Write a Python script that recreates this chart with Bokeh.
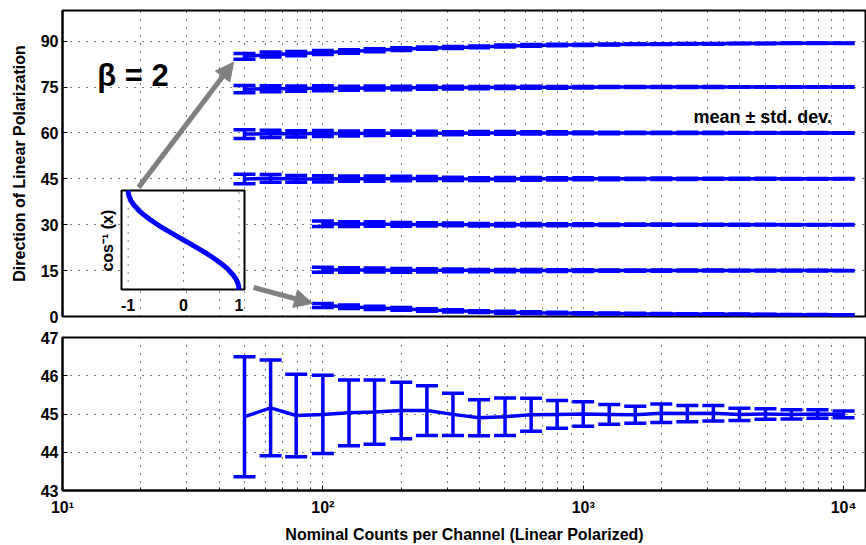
import math
from bokeh.plotting import figure
from bokeh.layouts import column
from bokeh.models import (Range1d, LinearScale, FixedTicker, Whisker, TeeHead,
                          ColumnDataSource, Label, Arrow, NormalHead)
from bokeh.embed import file_html
from bokeh.resources import INLINE
from bokeh.core.properties import value

# ---------------- data ----------------
counts = [50, 63, 79, 100, 126, 158, 200, 251, 316, 398, 501, 631, 794, 1000,
          1259, 1585, 1995, 2512, 3162, 3981, 5012, 6310, 7943, 10000]
counts_hi = [100, 126, 158, 200, 251, 316, 398, 501, 631, 794, 1000,
             1259, 1585, 1995, 2512, 3162, 3981, 5012, 6310, 7943, 10000]

mean_90 = [85.0, 85.6, 85.9, 86.3, 86.6, 87.0, 87.4, 87.7, 87.9, 88.1, 88.4, 88.6,
           88.7, 88.8, 88.9, 89.0, 89.0, 89.1, 89.1, 89.2, 89.2, 89.3, 89.3, 89.3]
std_90 = [0.93, 0.80, 0.70, 0.64, 0.55, 0.52, 0.46, 0.40, 0.35, 0.30, 0.30, 0.27,
          0.23, 0.20, 0.17, 0.14, 0.15, 0.13, 0.12, 0.10, 0.09, 0.08, 0.07, 0.06]
mean_75 = [74.3, 74.4, 74.5, 74.6, 74.6, 74.7, 74.7, 74.8, 74.8, 74.8, 74.9, 74.9,
           74.9, 74.9, 75.0, 75.0, 75.0, 75.0, 75.0, 75.0, 75.0, 75.0, 75.0, 75.0]
std_75 = [1.20, 0.98, 0.85, 0.80, 0.67, 0.66, 0.58, 0.51, 0.43, 0.37, 0.38, 0.34,
          0.28, 0.25, 0.20, 0.17, 0.19, 0.16, 0.15, 0.12, 0.11, 0.09, 0.08, 0.07]
mean_60 = [59.6, 59.7, 59.7, 59.8, 59.8, 59.9, 59.9, 59.9, 59.9, 60.0, 60.0, 60.0,
           60.0, 60.0, 60.0, 60.0, 60.0, 60.0, 60.0, 60.0, 60.0, 60.0, 60.0, 60.0]
std_60 = [1.47, 1.18, 1.02, 0.95, 0.80, 0.78, 0.69, 0.60, 0.51, 0.44, 0.45, 0.40,
          0.34, 0.30, 0.24, 0.21, 0.22, 0.20, 0.18, 0.15, 0.13, 0.11, 0.10, 0.08]
mean_45 = [44.93, 45.16, 44.96, 44.99, 45.03, 45.05, 45.09, 45.09, 44.99, 44.90, 44.93, 44.98,
           44.99, 45.00, 44.99, 44.98, 45.02, 45.01, 45.02, 44.99, 45.00, 44.99, 45.00, 44.99]
std_45 = [1.57, 1.25, 1.08, 1.02, 0.86, 0.84, 0.74, 0.65, 0.55, 0.47, 0.49, 0.43,
          0.36, 0.32, 0.26, 0.22, 0.24, 0.21, 0.20, 0.16, 0.14, 0.12, 0.11, 0.09]
mean_30 = [30.3, 30.2, 30.2, 30.1, 30.1, 30.1, 30.0, 30.0, 30.0, 30.0, 30.0,
           30.0, 30.0, 30.0, 30.0, 30.0, 30.0, 30.0, 30.0, 30.0, 30.0]
std_30 = [0.87, 0.75, 0.73, 0.64, 0.56, 0.48, 0.41, 0.42, 0.37, 0.31, 0.28,
          0.23, 0.19, 0.21, 0.18, 0.17, 0.14, 0.12, 0.10, 0.09, 0.08]
mean_15 = [15.3, 15.2, 15.2, 15.1, 15.1, 15.1, 15.0, 15.0, 15.0, 15.0, 15.0,
           15.0, 15.0, 15.0, 15.0, 15.0, 15.0, 15.0, 15.0, 15.0, 15.0]
std_15 = [0.82, 0.70, 0.68, 0.60, 0.52, 0.45, 0.38, 0.39, 0.35, 0.29, 0.26,
          0.21, 0.18, 0.19, 0.17, 0.16, 0.13, 0.11, 0.10, 0.09, 0.07]
mean_0 = [3.6, 3.2, 2.8, 2.5, 2.1, 1.85, 1.6, 1.4, 1.25, 1.15, 1.05,
          1.0, 0.9, 0.85, 0.8, 0.75, 0.7, 0.65, 0.6, 0.6, 0.55]
std_0 = [0.65, 0.56, 0.53, 0.47, 0.41, 0.36, 0.31, 0.31, 0.28, 0.23, 0.21,
         0.17, 0.14, 0.16, 0.13, 0.12, 0.10, 0.09, 0.08, 0.07, 0.06]

# inset: cos^-1(x)
inset_x = [-1.0, -0.995, -0.98, -0.95, -0.9, -0.8, -0.7, -0.6, -0.5, -0.4, -0.3, -0.2, -0.1,
           0.0, 0.1, 0.2, 0.3, 0.4, 0.5, 0.6, 0.7, 0.8, 0.9, 0.95, 0.98, 0.995, 1.0]
inset_y = [3.142, 3.042, 2.941, 2.824, 2.691, 2.498, 2.346, 2.214, 2.094, 1.982, 1.875, 1.772, 1.671,
           1.571, 1.471, 1.369, 1.266, 1.159, 1.047, 0.927, 0.795, 0.644, 0.451, 0.318, 0.200, 0.100, 0.0]
inset_ticks = [-1, 0, 1]
inset_tick_labels = ["-1", "0", "1"]

top_yticks = [0, 15, 30, 45, 60, 75, 90]
bot_yticks = [43, 44, 45, 46, 47]
x_major = [10, 100, 1000, 10000]
x_minor = [20, 30, 40, 50, 60, 70, 80, 90, 200, 300, 400, 500, 600, 700, 800, 900,
           2000, 3000, 4000, 5000, 6000, 7000, 8000, 9000]
x_labels = {10: "10¹", 100: "10²", 1000: "10³", 10000: "10⁴"}

# ---------------- style ----------------
FONT = "Liberation Sans"
BLUE = "#0000ff"
GRAY = "#808080"
DOT = "1 7"
LW = 3.5

FRAME_W = 804
x_range = Range1d(10, 12250)


def style_common(p):
    p.outline_line_color = "black"
    p.outline_line_width = 2
    p.background_fill_color = "white"
    p.border_fill_color = "white"
    for ax in p.axis:
        ax.axis_line_width = 2
        ax.major_tick_in = 5
        ax.major_tick_out = 0
        ax.minor_tick_in = 0
        ax.minor_tick_out = 0
        ax.major_label_text_font = FONT
        ax.major_label_text_font_style = "bold"
        ax.major_label_text_font_size = "16px"
        ax.major_label_text_color = "black"
        ax.axis_label_text_font = FONT
        ax.axis_label_text_font_style = "bold"
        ax.axis_label_text_font_size = "16px"
        ax.axis_label_text_color = "black"
    p.xaxis.ticker = FixedTicker(ticks=x_major, minor_ticks=x_minor)
    p.xaxis.minor_tick_in = 3
    p.xgrid.ticker = FixedTicker(ticks=x_major, minor_ticks=x_minor)
    for g in p.grid:
        g.grid_line_color = "black"
        g.grid_line_dash = DOT
        g.grid_line_width = 1
    p.xgrid.minor_grid_line_color = "black"
    p.xgrid.minor_grid_line_dash = DOT
    p.xgrid.minor_grid_line_width = 1


def errbars(p, xs, ms, ss):
    lo = [m - s for m, s in zip(ms, ss)]
    hi = [m + s for m, s in zip(ms, ss)]
    src = ColumnDataSource(dict(x=xs, m=ms, lo=lo, hi=hi))
    p.line("x", "m", source=src, line_color=BLUE, line_width=LW)
    w = Whisker(source=src, base="x", lower="lo", upper="hi", dimension="height",
                line_color=BLUE, line_width=LW, level="annotation",
                lower_head=TeeHead(size=22, line_color=BLUE, line_width=LW),
                upper_head=TeeHead(size=22, line_color=BLUE, line_width=LW))
    p.add_layout(w)


# ---------------- top panel ----------------
p1 = figure(frame_width=FRAME_W, frame_height=306, x_axis_type="log",
            x_range=x_range, y_range=Range1d(0, 100),
            min_border_left=62, min_border_right=0, min_border_top=10, min_border_bottom=10,
            output_backend="svg", toolbar_location=None)
style_common(p1)
p1.yaxis.ticker = FixedTicker(ticks=top_yticks)
p1.ygrid.ticker = FixedTicker(ticks=top_yticks)
p1.yaxis.major_label_standoff = 4
p1.yaxis.axis_label = "Direction of Linear Polarization"
p1.yaxis.axis_label_standoff = 10
p1.xaxis.visible = False

# inset coordinate system (pixel box inside the frame)
F_L, F_R, F_T, F_B = 62, 62 + FRAME_W, 10, 316
B_L, B_R, B_T, B_B = 121, 244, 190, 289
U0, U1, V0, V1 = -1.12, 1.1, 0.0, math.pi
ku = (U1 - U0) / (B_R - B_L)
kv = (V1 - V0) / (B_B - B_T)
p1.extra_x_ranges = {"ix": Range1d(U0 - (B_L - F_L) * ku, U1 + (F_R - B_R) * ku)}
p1.extra_y_ranges = {"iy": Range1d(V0 - (F_B - B_B) * kv, V1 + (B_T - F_T) * kv)}
p1.extra_x_scales = {"ix": LinearScale()}
p1.extra_y_scales = {"iy": LinearScale()}

for xs, ms, ss in [(counts, mean_90, std_90), (counts, mean_75, std_75),
                   (counts, mean_60, std_60), (counts, mean_45, std_45),
                   (counts_hi, mean_30, std_30), (counts_hi, mean_15, std_15),
                   (counts_hi, mean_0, std_0)]:
    errbars(p1, xs, ms, ss)

# inset
p1.quad(left=[U0], right=[U1], bottom=[V0], top=[V1], x_range_name="ix", y_range_name="iy",
        fill_color="white", line_color="black", line_width=2)
p1.segment(x0=inset_ticks, y0=[V0] * 3, x1=inset_ticks, y1=[V1] * 3,
           x_range_name="ix", y_range_name="iy", line_color="black", line_dash=DOT, line_width=1)
p1.line(inset_x, inset_y, x_range_name="ix", y_range_name="iy", line_color=BLUE, line_width=5)
p1.text(x=inset_ticks, y=[-0.48] * 3, text=inset_tick_labels, x_range_name="ix", y_range_name="iy",
        text_font=value(FONT), text_font_style="bold", text_font_size="16px",
        text_align="center", text_baseline="middle", text_color="black")
p1.text(x=[-1.37], y=[1.55], text=["cos⁻¹ (x)"], angle=math.pi / 2,
        x_range_name="ix", y_range_name="iy",
        text_font=value(FONT), text_font_style="bold", text_font_size="16px",
        text_align="center", text_baseline="middle", text_color="black")

# arrows
p1.add_layout(Arrow(x_start=19.6, y_start=42.2, x_end=45.4, y_end=83.1,
                    line_color=GRAY, line_width=5,
                    end=NormalHead(size=18, fill_color=GRAY, line_color=GRAY)))
p1.add_layout(Arrow(x_start=54.2, y_start=9.5, x_end=91.3, y_end=4.3,
                    line_color=GRAY, line_width=5,
                    end=NormalHead(size=18, fill_color=GRAY, line_color=GRAY)))

p1.add_layout(Label(x=13.6, y=78.8, text="β = 2", text_font=FONT, text_font_style="bold",
                    text_font_size="31px", text_baseline="alphabetic", text_color="black"))
p1.add_layout(Label(x=2650, y=65.1, text="mean ± std. dev.", text_font=FONT,
                    text_font_style="bold", text_font_size="18px",
                    text_baseline="alphabetic", text_color="black"))

# ---------------- bottom panel ----------------
p2 = figure(frame_width=FRAME_W, frame_height=153, x_axis_type="log",
            x_range=x_range, y_range=Range1d(43, 47),
            min_border_left=62, min_border_right=0, min_border_top=11, min_border_bottom=55,
            output_backend="svg", toolbar_location=None)
style_common(p2)
p2.yaxis.ticker = FixedTicker(ticks=bot_yticks)
p2.ygrid.ticker = FixedTicker(ticks=bot_yticks)
p2.yaxis.major_label_standoff = 4
p2.xaxis.major_label_overrides = x_labels
p2.xaxis.major_label_standoff = 8
p2.xaxis.axis_label = "Nominal Counts per Channel (Linear Polarized)"
p2.xaxis.axis_label_standoff = 7
errbars(p2, counts, mean_45, std_45)

layout = column(p1, p2, spacing=0)
open("out.html", "w").write(file_html(layout, INLINE))
